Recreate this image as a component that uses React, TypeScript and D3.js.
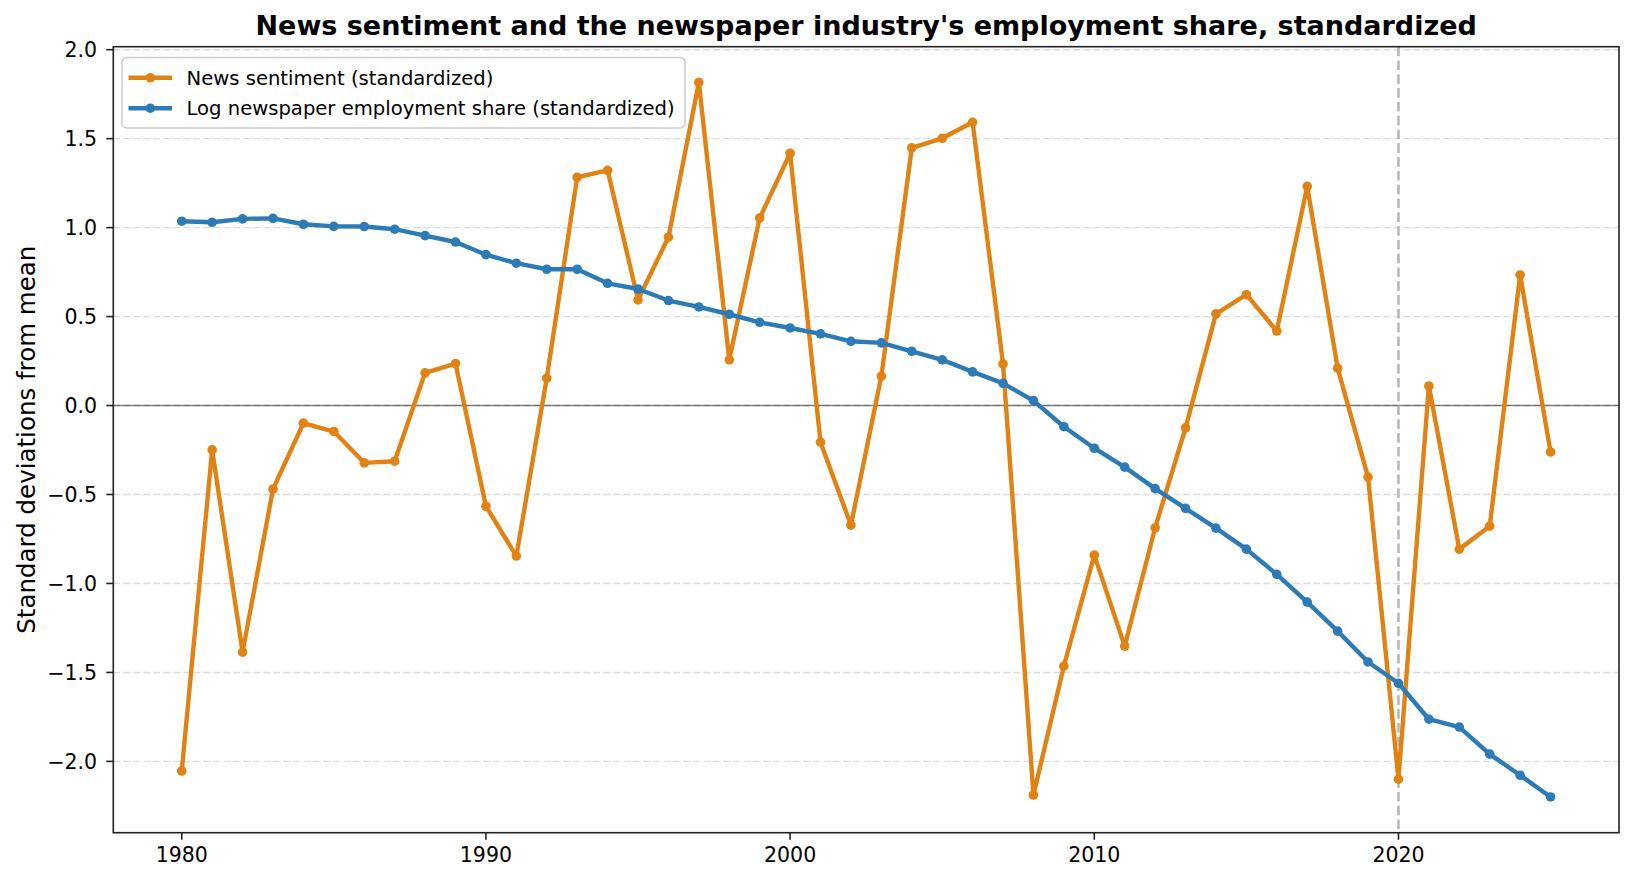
import React from "react";
import * as d3 from "d3";

const years: number[] = d3.range(1980, 2026);

const sentiment: number[] = [
  -2.054, -0.249, -1.386, -0.47, -0.099, -0.146, -0.322, -0.313, 0.184, 0.236,
  -0.566, -0.846, 0.154, 1.283, 1.322, 0.594, 0.946, 1.816, 0.257, 1.054,
  1.418, -0.206, -0.672, 0.165, 1.448, 1.502, 1.592, 0.234, -2.189, -1.464,
  -0.841, -1.352, -0.687, -0.125, 0.515, 0.623, 0.419, 1.232, 0.21, -0.402,
  -2.1, 0.11, -0.807, -0.678, 0.734, -0.261,
];

const employment: number[] = [
  1.036, 1.03, 1.049, 1.052, 1.019, 1.007, 1.006, 0.991, 0.955, 0.919,
  0.848, 0.8, 0.766, 0.766, 0.687, 0.655, 0.59, 0.554, 0.513, 0.468,
  0.436, 0.403, 0.361, 0.352, 0.305, 0.257, 0.189, 0.125, 0.028, -0.119,
  -0.24, -0.346, -0.467, -0.578, -0.689, -0.807, -0.949, -1.105, -1.268, -1.441,
  -1.561, -1.763, -1.807, -1.959, -2.078, -2.2,
];

const xTicks: number[] = [1980, 1990, 2000, 2010, 2020];
const yTicks: number[] = [-2.0, -1.5, -1.0, -0.5, 0.0, 0.5, 1.0, 1.5, 2.0];
const markerYear = 2020;

const seriesNames = [
  "News sentiment (standardized)",
  "Log newspaper employment share (standardized)",
];
const seriesColors = ["#e08214", "#2c7bb6"];

const title =
  "News sentiment and the newspaper industry's employment share, standardized";
const yLabel = "Standard deviations from mean";

const W = 1634;
const H = 883;
const plot = { left: 113.3, right: 1619, top: 46.7, bottom: 832.7 };
const FONT = "'DejaVu Sans', sans-serif";

function fmtY(v: number): string {
  const s = v.toFixed(1);
  return v < 0 ? "\u2212" + s.slice(1) : s;
}

export default function App() {
  const x = d3
    .scaleLinear()
    .domain([1977.75, 2027.25])
    .range([plot.left, plot.right]);
  const allVals = sentiment.concat(employment);
  const yMin = d3.min(allVals) as number;
  const yMax = d3.max(allVals) as number;
  const pad = (yMax - yMin) * 0.05;
  const y = d3
    .scaleLinear()
    .domain([yMin - pad, yMax + pad])
    .range([plot.bottom, plot.top]);

  const line = d3
    .line<number>()
    .x((_, i) => x(years[i]))
    .y((d) => y(d));

  const series = [sentiment, employment];
  const lw = 4.4;
  const r = 4.8;

  const legX = 122;
  const legY = 57.4;
  const legW = 563;
  const legH = 70.5;
  const rows = [77.8, 108.2];

  return (
    <svg
      width={W}
      height={H}
      style={{ position: "absolute", left: 0, top: 0, background: "#fff" }}
      fontFamily={FONT}
    >
      <rect x={0} y={0} width={W} height={H} fill="#fff" />
      <defs>
        <clipPath id="clip">
          <rect
            x={plot.left}
            y={plot.top}
            width={plot.right - plot.left}
            height={plot.bottom - plot.top}
          />
        </clipPath>
      </defs>
      {/* grid */}
      {yTicks.map((t) => (
        <line
          key={"g" + t}
          x1={plot.left}
          x2={plot.right}
          y1={y(t)}
          y2={y(t)}
          stroke="#dcdcdc"
          strokeWidth={1.4}
          strokeDasharray="7,3"
        />
      ))}
      {/* zero line */}
      <line
        x1={plot.left}
        x2={plot.right}
        y1={y(0)}
        y2={y(0)}
        stroke="#000"
        strokeOpacity={0.5}
        strokeWidth={1.5}
      />
      {/* vertical 2020 line */}
      <line
        x1={x(markerYear)}
        x2={x(markerYear)}
        y1={plot.top}
        y2={plot.bottom}
        stroke="#b8b8b8"
        strokeWidth={2.6}
        strokeDasharray="9.6,4.2"
      />
      <g clipPath="url(#clip)">
        {series.map((s, k) => (
          <g key={"s" + k}>
            <path
              d={line(s) || ""}
              fill="none"
              stroke={seriesColors[k]}
              strokeWidth={lw}
              strokeLinejoin="round"
            />
            {s.map((v, i) => (
              <circle
                key={i}
                cx={x(years[i])}
                cy={y(v)}
                r={r}
                fill={seriesColors[k]}
              />
            ))}
          </g>
        ))}
      </g>
      {/* spines */}
      <rect
        x={plot.left}
        y={plot.top}
        width={plot.right - plot.left}
        height={plot.bottom - plot.top}
        fill="none"
        stroke="#222"
        strokeWidth={1.6}
      />
      {/* y ticks */}
      {yTicks.map((t) => (
        <g key={"yt" + t}>
          <line
            x1={plot.left - 7}
            x2={plot.left}
            y1={y(t)}
            y2={y(t)}
            stroke="#222"
            strokeWidth={1.6}
          />
          <text
            x={97}
            y={y(t)}
            dy="0.36em"
            textAnchor="end"
            fontSize={20.5}
            fill="#000"
          >
            {fmtY(t)}
          </text>
        </g>
      ))}
      {/* x ticks */}
      {xTicks.map((t) => (
        <g key={"xt" + t}>
          <line
            x1={x(t)}
            x2={x(t)}
            y1={plot.bottom}
            y2={plot.bottom + 7}
            stroke="#222"
            strokeWidth={1.6}
          />
          <text
            x={x(t)}
            y={862}
            textAnchor="middle"
            fontSize={20.5}
            fill="#000"
          >
            {t}
          </text>
        </g>
      ))}
      {/* y label */}
      <text
        transform={`translate(35, ${(plot.top + plot.bottom) / 2}) rotate(-90)`}
        textAnchor="middle"
        fontSize={24.5}
        fill="#000"
      >
        {yLabel}
      </text>
      {/* title */}
      <text
        x={(plot.left + plot.right) / 2}
        y={34.5}
        textAnchor="middle"
        fontSize={27}
        fontWeight="bold"
        fill="#000"
      >
        {title}
      </text>
      {/* legend */}
      <rect
        x={legX}
        y={legY}
        width={legW}
        height={legH}
        rx={5}
        fill="#fff"
        fillOpacity={0.8}
        stroke="#cccccc"
        strokeWidth={1.5}
      />
      {seriesNames.map((n, k) => (
        <g key={"l" + k}>
          <line
            x1={legX + 6.5}
            x2={legX + 50}
            y1={rows[k]}
            y2={rows[k]}
            stroke={seriesColors[k]}
            strokeWidth={lw}
          />
          <circle cx={legX + 28.3} cy={rows[k]} r={r} fill={seriesColors[k]} />
          <text
            x={legX + 64.5}
            y={rows[k]}
            dy="0.36em"
            fontSize={19.6}
            fill="#000"
          >
            {n}
          </text>
        </g>
      ))}
    </svg>
  );
}
